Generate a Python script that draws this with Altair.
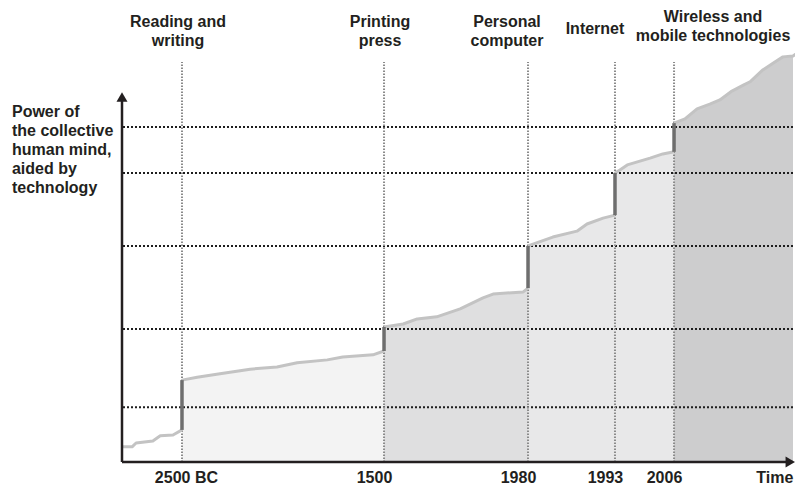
import altair as alt
import pandas as pd

# ---------------- data ----------------
eras = ["pre", "writing", "press", "pc", "internet", "mobile"]
era_fill = ["#ffffff", "#f3f3f3", "#dfdfe0", "#e8e8e9", "#e8e8e9", "#cdcdce"]

# curve segments (x = position along the stylised time axis 0-100, y = power 0-100)
seg_t = [
    [0, 1.5, 2.1, 4.6, 5.7, 7.6, 8.94],
    [8.94, 11.2, 14.6, 19.1, 23.1, 26.1, 30.6, 32.9, 37.4, 39.05],
    [39.05, 41.9, 44.0, 46.9, 50.4, 53.8, 55.3, 59.8, 60.51],
    [60.51, 64.2, 67.8, 69.3, 71.7, 73.47],
    [73.47, 74.2, 75.3, 78.7, 80.6, 82.27],
    [82.27, 83.9, 85.7, 87.6, 89.1, 90.9, 92.6, 93.6, 95.5, 97.3, 98.5, 100, 101.3],
]
seg_v = [
    [3.6, 3.6, 4.5, 5.0, 6.2, 6.4, 7.6],
    [19.4, 20.1, 20.9, 22.0, 22.5, 23.5, 24.2, 24.9, 25.4, 26.3],
    [32.0, 32.7, 33.9, 34.4, 36.3, 38.9, 39.8, 40.3, 41.2],
    [51.2, 53.3, 54.7, 56.4, 57.8, 58.5],
    [68.5, 69.2, 70.4, 72.0, 73.0, 73.5],
    [80.3, 81.3, 83.7, 84.8, 85.8, 87.9, 89.3, 90.1, 92.9, 94.8, 96.0, 96.2, 97.6],
]

tick_pos = [8.94, 39.05, 60.51, 73.47, 82.27]
tick_labels = ["2500 BC", "1500", "1980", "1993", "2006"]

grid_levels = [13.0, 31.5, 51.2, 68.5, 79.4]

milestones = ["Reading and\nwriting", "Printing\npress", "Personal\ncomputer",
              "Internet", "Wireless and\nmobile technologies"]
milestone_t = [8.35, 38.45, 57.38, 70.49, 88.08]
milestone_v = [103.15, 103.1, 103.08, 101.42, 104.27]

titles = ["Power of\nthe collective\nhuman mind,\naided by\ntechnology", "Time"]
title_t = [-16.4, 97.3]
title_v = [81.8, -4.9]

# ---------------- tables ----------------
rows = []
for i, (ts, vs) in enumerate(zip(seg_t, seg_v)):
    for k, (t, v) in enumerate(zip(ts, vs)):
        rows.append({"era": eras[i], "t": t, "v": v, "k": k})
curve = pd.DataFrame(rows)
area_df = curve[(curve["era"] != "pre") & (curve["t"] <= 100)]

jumps = pd.DataFrame({
    "t": tick_pos,
    "lo": [seg_v[i][-1] for i in range(5)],
    "hi": [seg_v[i + 1][0] for i in range(5)],
})
grid_df = pd.DataFrame({"v": grid_levels})
tick_df = pd.DataFrame({"t": tick_pos, "label": tick_labels, "lv": [-4.9] * 5,
                        "b": [0.0] * 5, "top": [94.8] * 5})
ms_df = pd.DataFrame({"label": milestones, "t": milestone_t, "v": milestone_v})
axes_df = pd.DataFrame({"x0": [0.0, 0.0], "x1": [99.5, 0.0], "y0": [0.0, 0.0], "y1": [0.0, 86.0]})
arrow_df = pd.DataFrame({"x": [99.6, 0.0], "y": [0.0, 86.5], "shape": ["triangle-right", "triangle-up"]})
ytitle_df = pd.DataFrame({"label": [titles[0]], "t": [title_t[0]], "v": [title_v[0]]})
xtitle_df = pd.DataFrame({"label": [titles[1]], "t": [title_t[1]], "v": [title_v[1]]})

FONT = "Liberation Sans"
TXT = "#231f20"

xs = alt.Scale(domain=[0, 100], nice=False, zero=False)
ys = alt.Scale(domain=[0, 100], nice=False, zero=False)

x_axis = alt.Axis(
    values=tick_pos, labels=False, domain=False, grid=False, ticks=True,
    tickSize=8, tickWidth=2, tickColor=TXT, title=None,
)

area = alt.Chart(area_df).mark_area(opacity=1, interpolate="linear").encode(
    x=alt.X("t:Q", scale=xs, axis=x_axis),
    y=alt.Y("v:Q", scale=ys, axis=None, stack=None),
    color=alt.Color("era:N", scale=alt.Scale(domain=eras, range=era_fill), legend=None),
)

grid = alt.Chart(grid_df).mark_rule(color="#1e1e1e", strokeWidth=2, strokeDash=[2, 2]).encode(
    y=alt.Y("v:Q", scale=ys, axis=None)
)

vlines = alt.Chart(tick_df).mark_rule(color="#8a8a8a", strokeWidth=2, strokeDash=[1.5, 1.5]).encode(
    x=alt.X("t:Q", scale=xs, axis=None),
    y=alt.Y("b:Q", scale=ys, axis=None),
    y2="top:Q",
)

line = alt.Chart(curve).mark_line(color="#c3c3c3", strokeWidth=3, strokeJoin="round").encode(
    x=alt.X("t:Q", scale=xs, axis=None),
    y=alt.Y("v:Q", scale=ys, axis=None),
    detail="era:N",
)

jump = alt.Chart(jumps).mark_rule(color="#6e6e6e", strokeWidth=3.5).encode(
    x=alt.X("t:Q", scale=xs, axis=None),
    y=alt.Y("lo:Q", scale=ys, axis=None),
    y2="hi:Q",
)

axes_lines = alt.Chart(axes_df).mark_rule(color=TXT, strokeWidth=2.5).encode(
    x=alt.X("x0:Q", scale=xs, axis=None), x2="x1:Q",
    y=alt.Y("y0:Q", scale=ys, axis=None), y2="y1:Q",
)
arrows = alt.Chart(arrow_df).mark_point(filled=True, size=121, color=TXT, opacity=1).encode(
    x=alt.X("x:Q", scale=xs, axis=None),
    y=alt.Y("y:Q", scale=ys, axis=None),
    shape=alt.Shape("shape:N", scale=None, legend=None),
)

tick_text = alt.Chart(tick_df).transform_calculate(
    lx="datum.t + (datum.t < 20 ? 0.66 : -1.42)"
).mark_text(
    align="center", baseline="alphabetic", font=FONT, fontSize=16,
    fontWeight="bold", color=TXT
).encode(
    x=alt.X("lx:Q", scale=xs, axis=None),
    y=alt.Y("lv:Q", scale=ys, axis=None),
    text="label:N",
)

ms_text = alt.Chart(ms_df).mark_text(
    align="center", baseline="alphabetic", lineBreak="\n", font=FONT, fontSize=16,
    fontWeight="bold", color=TXT, lineHeight=19
).encode(
    x=alt.X("t:Q", scale=xs, axis=None),
    y=alt.Y("v:Q", scale=ys, axis=None),
    text="label:N",
)

ytitle = alt.Chart(ytitle_df).mark_text(
    align="left", baseline="alphabetic", lineBreak="\n", font=FONT, fontSize=16,
    fontWeight="bold", color=TXT, lineHeight=19
).encode(
    x=alt.X("t:Q", scale=xs, axis=None),
    y=alt.Y("v:Q", scale=ys, axis=None),
    text="label:N",
)

xtitle = alt.Chart(xtitle_df).mark_text(
    align="center", baseline="alphabetic", font=FONT, fontSize=16,
    fontWeight="bold", color=TXT
).encode(
    x=alt.X("t:Q", scale=xs, axis=None),
    y=alt.Y("v:Q", scale=ys, axis=None),
    text="label:N",
)

chart = alt.layer(
    area, grid, vlines, line, jump, axes_lines, arrows,
    tick_text, ms_text, ytitle, xtitle
).properties(
    width=671, height=422,
    padding={"left": 114, "top": 32, "right": 2, "bottom": 25},
    autosize=alt.AutoSizeParams(type="none"),
    background="white",
).configure_view(stroke=None)

chart.save("out.html", embed_options={"renderer": "svg", "actions": False})
